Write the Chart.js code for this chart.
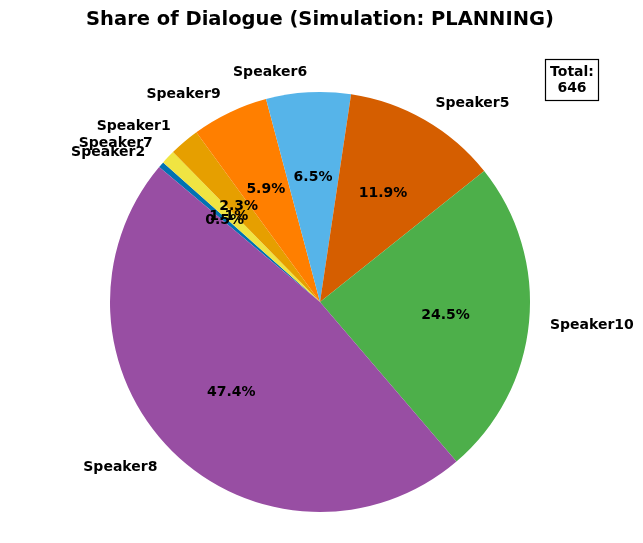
<!DOCTYPE html>
<html>
<head>
<meta charset="utf-8">
<script src="https://cdn.jsdelivr.net/npm/chart.js@4.4.0/dist/chart.umd.min.js"></script>
<style>
  html, body { margin: 0; padding: 0; background: #ffffff; }
  #wrap { width: 643px; height: 543px; position: relative; }
</style>
</head>
<body>
<div id="wrap"><canvas id="pieCanvas" width="643" height="543"></canvas></div>
<script>
// Slices in clockwise drawing order (the original runs counter-clockwise from 140 degrees)
const speakers = ['Speaker2', 'Speaker7', 'Speaker1', 'Speaker9', 'Speaker6', 'Speaker5', 'Speaker10', 'Speaker8'];
const turns = [3, 7, 15, 38, 42, 77, 158, 306];
const sliceColors = ['#0072b2', '#f0e442', '#e69f00', '#ff7f00', '#56b4e9', '#d55e00', '#4daf4a', '#984ea3'];
const chartTitle = 'Share of Dialogue (Simulation: PLANNING)';

const total = turns.reduce((a, b) => a + b, 0);
const FONT = '"DejaVu Sans", Verdana, sans-serif';

// Draws the outside names, the inside percentages, the title and the total box
const labelPlugin = {
  id: 'pieLabels',
  afterDatasetsDraw(chart) {
    const ctx = chart.ctx;
    const arcs = chart.getDatasetMeta(0).data;
    ctx.save();
    ctx.fillStyle = '#000000';
    ctx.font = 'bold 14px ' + FONT;
    ctx.textBaseline = 'middle';
    arcs.forEach((arc, i) => {
      const mid = (arc.startAngle + arc.endAngle) / 2;
      const r = arc.outerRadius;
      const cx = arc.x, cy = arc.y;
      // name at 1.1 r
      const lx = cx + 1.1 * r * Math.cos(mid);
      const ly = cy + 1.1 * r * Math.sin(mid) + 1;
      ctx.textAlign = Math.cos(mid) > 0 ? 'left' : 'right';
      ctx.fillText(speakers[i], lx, ly);
    });
    arcs.forEach((arc, i) => {
      const mid = (arc.startAngle + arc.endAngle) / 2;
      const r = arc.outerRadius;
      const px = arc.x + 0.6 * r * Math.cos(mid);
      const py = arc.y + 0.6 * r * Math.sin(mid) + 1;
      ctx.textAlign = 'center';
      ctx.fillText((turns[i] / total * 100).toFixed(1) + '%', px, py);
    });

    // title
    ctx.font = 'bold 19.5px ' + FONT;
    ctx.textAlign = 'center';
    ctx.fillText(chartTitle, 320, 20);

    // total box
    ctx.font = 'bold 14px ' + FONT;
    ctx.fillStyle = '#ffffff';
    ctx.fillRect(545.5, 59.5, 53, 41);
    ctx.strokeStyle = '#000000';
    ctx.lineWidth = 1.2;
    ctx.strokeRect(545.5, 59.5, 53, 41);
    ctx.fillStyle = '#000000';
    ctx.fillText('Total:', 572, 72.5);
    ctx.fillText(String(total), 572, 88.5);
    ctx.restore();
  }
};

new Chart(document.getElementById('pieCanvas').getContext('2d'), {
  type: 'pie',
  data: {
    labels: speakers,
    datasets: [{
      data: turns,
      backgroundColor: sliceColors,
      borderWidth: 0
    }]
  },
  options: {
    responsive: false,
    animation: false,
    events: [],
    rotation: -50,
    layout: {
      padding: { top: 92, bottom: 31, left: 10, right: 13 }
    },
    plugins: {
      legend: { display: false },
      tooltip: { enabled: false },
      title: { display: false }
    }
  },
  plugins: [labelPlugin]
});
</script>
</body>
</html>
